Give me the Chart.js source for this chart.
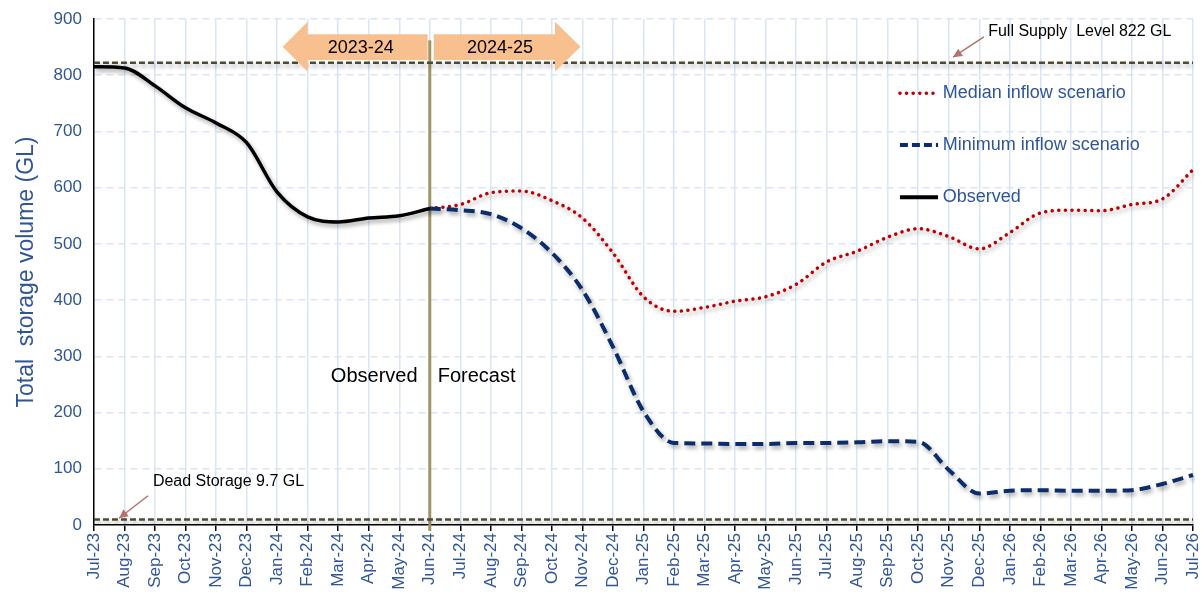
<!DOCTYPE html>
<html>
<head>
<meta charset="utf-8">
<script src="https://cdn.jsdelivr.net/npm/chart.js@4/dist/chart.umd.min.js"></script>
<style>
  html, body { margin: 0; padding: 0; background: #fff; }
  #wrap { width: 1202px; height: 595px; position: relative; }
</style>
</head>
<body>
<div id="wrap"><canvas id="storageChart"></canvas></div>
<script>
// month labels, Jul-23 .. Jul-26
const months = ['Jul-23','Aug-23','Sep-23','Oct-23','Nov-23','Dec-23','Jan-24','Feb-24','Mar-24','Apr-24','May-24','Jun-24',
    'Jul-24','Aug-24','Sep-24','Oct-24','Nov-24','Dec-24','Jan-25','Feb-25','Mar-25','Apr-25','May-25','Jun-25',
    'Jul-25','Aug-25','Sep-25','Oct-25','Nov-25','Dec-25','Jan-26','Feb-26','Mar-26','Apr-26','May-26','Jun-26','Jul-26'];

const observed = [815, 813, 781, 742, 715, 680, 592, 548, 539, 546, 550, 563];

const medianInflow = [null, null, null, null, null, null, null, null, null, null, null, 563,
    570, 591, 594, 577, 546, 484, 406, 380, 387, 398, 406, 428,
    468, 487, 512, 527, 513, 491, 520, 555, 560, 559, 570, 580, 632];

const minimumInflow = [null, null, null, null, null, null, null, null, null, null, null, 563,
    560, 553, 528, 484, 418, 317, 202, 146, 145, 144, 144, 146,
    146, 147, 149, 148, 98, 56, 61, 62, 61, 61, 62, 73, 89];

const fullSupply = 822;
const deadStorage = 9.7;
const yTicks = [0, 100, 200, 300, 400, 500, 600, 700, 800, 900];

const blueText = '#2f5597';
const fontName = '"Liberation Sans", Arial, sans-serif';

const shadowPlugin = {
    id: 'shadow',
    beforeDatasetsDraw(chart) {
        const c = chart.ctx;
        c.save();
        c.shadowColor = 'rgba(0,0,0,0.35)';
        c.shadowBlur = 4;
        c.shadowOffsetX = 2;
        c.shadowOffsetY = 3;
    },
    afterDatasetsDraw(chart) {
        chart.ctx.restore();
    }
};

function blockArrow(c, x0, x1, tipX, yTop, yBot, bTop, bBot) {
    // x0 = body start, x1 = head base, tipX = tip
    c.beginPath();
    c.moveTo(x0, bTop);
    c.lineTo(x1, bTop);
    c.lineTo(x1, yTop);
    c.lineTo(tipX, (yTop + yBot) / 2);
    c.lineTo(x1, yBot);
    c.lineTo(x1, bBot);
    c.lineTo(x0, bBot);
    c.closePath();
    c.fill();
}

function pointer(c, x0, y0, x1, y1) {
    c.beginPath();
    c.moveTo(x0, y0);
    c.lineTo(x1, y1);
    c.stroke();
    const a = Math.atan2(y1 - y0, x1 - x0);
    c.beginPath();
    c.moveTo(x1, y1);
    c.lineTo(x1 - 10 * Math.cos(a - 0.45), y1 - 10 * Math.sin(a - 0.45));
    c.lineTo(x1 - 10 * Math.cos(a + 0.45), y1 - 10 * Math.sin(a + 0.45));
    c.closePath();
    c.fill();
}

const notesPlugin = {
    id: 'notes',
    beforeDatasetsDraw(chart) {
        const c = chart.ctx;
        const x = chart.scales.x, y = chart.scales.y;
        // vertical divider at Jun-24
        c.save();
        c.strokeStyle = '#9d9664';
        c.lineWidth = 3;
        c.beginPath();
        c.moveTo(x.getPixelForValue(11), y.getPixelForValue(862));
        c.lineTo(x.getPixelForValue(11), y.bottom + 6);
        c.stroke();
        c.restore();
    },
    afterDraw(chart) {
        const c = chart.ctx;
        const x = chart.scales.x, y = chart.scales.y;
        const px = v => x.getPixelForValue(v);
        const py = v => y.getPixelForValue(v);
        c.save();

        // year arrows
        c.fillStyle = '#f9c08f';
        blockArrow(c, px(10.93), px(7.0), px(6.18), py(895), py(806), py(873), py(827));
        blockArrow(c, px(11.13), px(15.1), px(15.94), py(895), py(806), py(873), py(827));
        c.fillStyle = '#000';
        c.font = '18px ' + fontName;
        c.textAlign = 'center';
        c.textBaseline = 'middle';
        c.fillText('2023-24', px(8.74), py(849));
        c.fillText('2024-25', px(13.3), py(849));

        // observed / forecast
        c.font = '20px ' + fontName;
        c.textAlign = 'right';
        c.fillText('Observed', px(10.6), py(265));
        c.textAlign = 'left';
        c.fillText('Forecast', px(11.26), py(265));

        // reference notes
        c.font = '16px ' + fontName;
        c.fillText('Full Supply  Level 822 GL', px(29.29), py(877));
        c.fillText('Dead Storage 9.7 GL', px(1.93), py(78));
        c.strokeStyle = '#b4736c';
        c.fillStyle = '#b4736c';
        c.lineWidth = 1.5;
        pointer(c, px(29.15), py(868), px(28.14), py(832));
        pointer(c, px(1.77), py(52), px(0.82), py(12));

        // legend
        const rows = [
            { text: 'Median inflow scenario', color: '#c00000', dash: [0.1, 6.5], width: 3.5, cap: 'round' },
            { text: 'Minimum inflow scenario', color: '#0c2d6b', dash: [8, 4], width: 4, cap: 'butt' },
            { text: 'Observed', color: '#000', dash: [], width: 4, cap: 'butt' }
        ];
        const rowVals = [768, 676, 583];
        c.font = '18px ' + fontName;
        c.textAlign = 'left';
        rows.forEach((r, i) => {
            const yy = py(rowVals[i]);
            c.strokeStyle = r.color;
            c.lineWidth = r.width;
            c.lineCap = r.cap;
            c.setLineDash(r.dash);
            c.beginPath();
            c.moveTo(px(26.4), yy);
            c.lineTo(px(27.65), yy);
            c.stroke();
            c.setLineDash([]);
            c.fillStyle = blueText;
            c.fillText(r.text, px(27.8), yy);
        });
        c.restore();
    }
};

const ctx = document.getElementById('storageChart').getContext('2d');

const storageChart = new Chart(ctx, {
    type: 'line',
    data: {
        labels: months,
        datasets: [
            {
                label: 'Observed',
                data: observed,
                borderColor: '#000',
                borderWidth: 3.5,
                pointRadius: 0,
                cubicInterpolationMode: 'monotone'
            },
            {
                label: 'Minimum inflow scenario',
                data: minimumInflow,
                borderColor: '#0c2d6b',
                borderWidth: 4,
                borderDash: [11, 6],
                pointRadius: 0,
                cubicInterpolationMode: 'monotone'
            },
            {
                label: 'Median inflow scenario',
                data: medianInflow,
                borderColor: '#c00000',
                borderWidth: 3.5,
                borderDash: [0.1, 6.5],
                borderCapStyle: 'round',
                pointRadius: 0,
                cubicInterpolationMode: 'monotone'
            },
            {
                label: 'Full Supply Level',
                data: months.map(() => fullSupply),
                borderColor: '#4d4a34',
                borderWidth: 2.5,
                borderDash: [6, 3],
                pointRadius: 0
            },
            {
                label: 'Dead Storage',
                data: months.map(() => deadStorage),
                borderColor: '#4d4a34',
                borderWidth: 2.5,
                borderDash: [6, 3],
                pointRadius: 0
            }
        ]
    },
    options: {
        responsive: true,
        maintainAspectRatio: false,
        animation: false,
        layout: { padding: { top: 19, right: 9, left: 9, bottom: 0 } },
        plugins: {
            legend: { display: false },
            tooltip: { enabled: false }
        },
        scales: {
            x: {
                afterFit: s => {
                    s.height = 70;
                    s.paddingRight = 0;
                    s.paddingLeft = 0;
                },
                grid: { color: '#d9e5f5', lineWidth: 1.5, tickColor: '#000', tickLength: 6 },
                border: { color: '#000', width: 1.5 },
                ticks: {
                    color: blueText,
                    font: { family: fontName, size: 17 },
                    minRotation: 90,
                    maxRotation: 90,
                    autoSkip: false,
                    padding: 2
                }
            },
            y: {
                min: 0,
                max: 900,
                afterBuildTicks: axis => { axis.ticks = yTicks.map(v => ({ value: v })); },
                afterFit: s => {
                    s.paddingTop = 0;
                    s.paddingBottom = 0;
                },
                grid: { color: '#d9e5f5', lineWidth: 1.5, drawTicks: false },
                border: { color: '#000', width: 1.5, dash: [7, 5] },
                ticks: {
                    color: blueText,
                    font: { family: fontName, size: 17 },
                    padding: 12
                },
                title: {
                    display: true,
                    text: 'Total  storage volume (GL)',
                    color: blueText,
                    font: { family: fontName, size: 23 },
                    padding: { bottom: 1 }
                }
            }
        }
    },
    plugins: [notesPlugin, shadowPlugin]
});
</script>
</body>
</html>
